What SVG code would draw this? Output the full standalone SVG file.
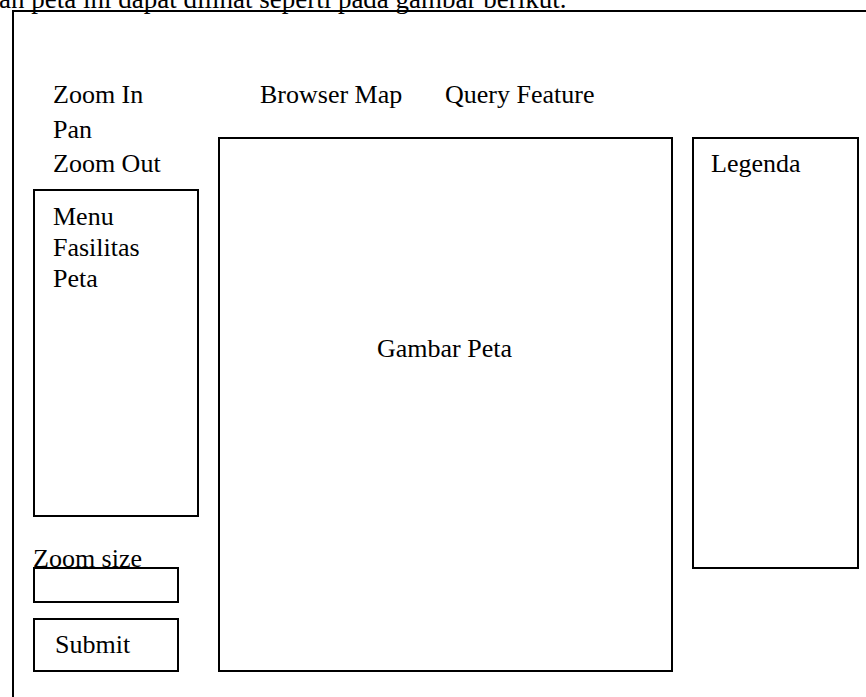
<svg xmlns="http://www.w3.org/2000/svg" width="866" height="697" viewBox="0 0 866 697">
<style>
text{font-family:"Liberation Serif","Times New Roman",serif;font-size:26px;fill:#000}
.b{fill:none;stroke:#000;stroke-width:2}
</style>
<rect width="866" height="697" fill="#fff"/>
<text x="-1" y="8" style="font-size:27px">an peta ini dapat dilihat seperti pada gambar berikut.</text>
<g id="frame"><polyline class="b" points="13,697 13,11 866,11"/></g>
<g id="tools">
<text x="53" y="103">Zoom In</text>
<text x="53" y="138">Pan</text>
<text x="53" y="172">Zoom Out</text>
</g>
<g id="browser-map"><text x="260" y="103">Browser Map</text></g>
<g id="query-feature"><text x="445" y="103">Query Feature</text></g>
<g id="menu"><rect class="b" x="34" y="190" width="164" height="326"/>
<text x="53" y="225">Menu</text><text x="53" y="256">Fasilitas</text><text x="53" y="287">Peta</text></g>
<g id="zoom-size"><text x="33" y="567">Zoom size</text><rect class="b" x="34" y="568" width="144" height="34"/></g>
<g id="submit"><rect class="b" x="34" y="619" width="144" height="52"/><text x="55" y="653">Submit</text></g>
<g id="map"><rect class="b" x="219" y="138" width="453" height="533"/><text x="377" y="357">Gambar Peta</text></g>
<g id="legend"><rect class="b" x="693" y="138" width="165" height="430"/><text x="711" y="172">Legenda</text></g>
<g id="connectors"/>
</svg>
